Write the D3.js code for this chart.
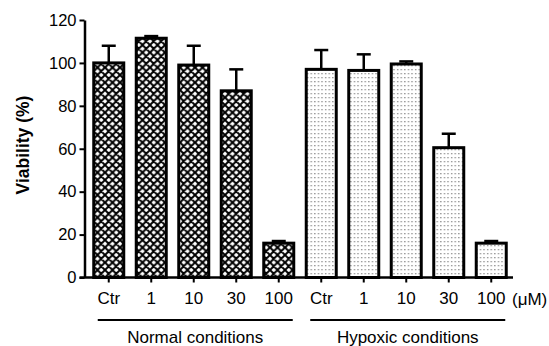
<!DOCTYPE html>
<html>
<head>
<meta charset="utf-8">
<script src="https://cdn.jsdelivr.net/npm/d3@7"></script>
<style>
  html, body { margin: 0; padding: 0; background: #fff; }
  svg { display: block; }
  text { font-family: "Liberation Sans", Arial, sans-serif; fill: #000; }
</style>
</head>
<body>
<svg id="chart" width="549" height="346"></svg>
<script>
const categories = ["Ctr", "1", "10", "30", "100"];
const groups = ["Normal conditions", "Hypoxic conditions"];
const normalMeans = [100, 111.5, 99, 87, 16];
const normalErr = [8, 1, 9, 10, 1];
const hypoxicMeans = [97, 96.5, 99.5, 60.5, 16];
const hypoxicErr = [9, 7.5, 1.2, 6.5, 1];
const yTicks = [0, 20, 40, 60, 80, 100, 120];
const unitLabel = "(\u03bcM)";
const yTitle = "Viability (%)";

const rows = [];
groups.forEach((g, gi) => {
  const means = gi === 0 ? normalMeans : hypoxicMeans;
  const errs = gi === 0 ? normalErr : hypoxicErr;
  categories.forEach((c, ci) => {
    rows.push({ key: gi + "-" + ci, group: gi, cat: c, mean: means[ci], err: errs[ci] });
  });
});

const svg = d3.select("#chart");
const defs = svg.append("defs");

// cross-hatch pattern
const ch = defs.append("pattern").attr("id", "cross").attr("patternUnits", "userSpaceOnUse")
  .attr("width", 7.5).attr("height", 7.5);
ch.append("rect").attr("width", 7.5).attr("height", 7.5).attr("fill", "#fff");
ch.append("path").attr("d", "M0,0 L7.5,7.5 M7.5,0 L0,7.5 M-1,6.5 L1,8.5 M6.5,-1 L8.5,1 M-1,1 L1,-1 M6.5,8.5 L8.5,6.5")
  .attr("stroke", "#000").attr("stroke-width", 2);

// dotted pattern
const dp = defs.append("pattern").attr("id", "dots").attr("patternUnits", "userSpaceOnUse")
  .attr("width", 3.6).attr("height", 4);
dp.append("rect").attr("width", 3.6).attr("height", 4).attr("fill", "#fff");
dp.append("rect").attr("x", 1).attr("y", 1).attr("width", 1.3).attr("height", 1.3).attr("fill", "#8a8a8a");

const yAxisX = 84.5;
const y = d3.scaleLinear().domain([0, 120]).range([277.5, 20]);
const x = d3.scaleBand().domain(rows.map(d => d.key)).range([87.5, 512.5])
  .paddingInner(0.294).paddingOuter(0.147);

// bars
svg.append("g").selectAll("rect").data(rows).join("rect")
  .attr("x", d => x(d.key))
  .attr("y", d => y(d.mean))
  .attr("width", x.bandwidth())
  .attr("height", d => y(0) - y(d.mean))
  .attr("fill", d => d.group === 0 ? "url(#cross)" : "url(#dots)")
  .attr("stroke", "#000").attr("stroke-width", 3);

// error bars
const eb = svg.append("g").attr("stroke", "#000").attr("stroke-width", 2.5);
eb.selectAll("line.v").data(rows).join("line").attr("class", "v")
  .attr("x1", d => x(d.key) + x.bandwidth() / 2)
  .attr("x2", d => x(d.key) + x.bandwidth() / 2)
  .attr("y1", d => y(d.mean))
  .attr("y2", d => y(d.mean + d.err));
eb.selectAll("line.c").data(rows).join("line").attr("class", "c")
  .attr("x1", d => x(d.key) + x.bandwidth() / 2 - 7)
  .attr("x2", d => x(d.key) + x.bandwidth() / 2 + 7)
  .attr("y1", d => y(d.mean + d.err))
  .attr("y2", d => y(d.mean + d.err));

// y axis
const yAxis = svg.append("g").attr("transform", `translate(${yAxisX},0)`)
  .call(d3.axisLeft(y).tickValues(yTicks).tickSize(5).tickPadding(3).tickSizeOuter(0));
yAxis.select(".domain").attr("stroke-width", 2.5);
yAxis.selectAll(".tick line").attr("stroke-width", 2);
yAxis.selectAll(".tick text").attr("font-size", 16.5).attr("font-family", "Liberation Sans, Arial, sans-serif");

// x axis
const xAxis = svg.append("g").attr("transform", `translate(0,${y(0)})`)
  .call(d3.axisBottom(x).tickSize(5).tickPadding(9).tickSizeOuter(0)
    .tickFormat(k => rows.find(r => r.key === k).cat));
xAxis.select(".domain").attr("d", `M${yAxisX - 5},0H513`).attr("stroke-width", 2.5);
xAxis.selectAll(".tick line").attr("stroke-width", 2);
xAxis.selectAll(".tick text").attr("font-size", 17).attr("font-family", "Liberation Sans, Arial, sans-serif");

svg.append("text").attr("x", 512).attr("y", y(0) + 27).attr("font-size", 17).text(unitLabel);

// group lines & labels
groups.forEach((g, gi) => {
  const keys = rows.filter(r => r.group === gi).map(r => r.key);
  const x0 = x(keys[0]) + 4;
  const x1 = x(keys[keys.length - 1]) + x.bandwidth() - 1;
  svg.append("line").attr("x1", x0).attr("x2", x1).attr("y1", 320).attr("y2", 320)
    .attr("stroke", "#000").attr("stroke-width", 2);
  svg.append("text").attr("x", (x0 + x1) / 2).attr("y", 342.5).attr("text-anchor", "middle")
    .attr("font-size", 17).text(g);
});

// y title
svg.append("text").attr("transform", "translate(29,145) rotate(-90)")
  .attr("text-anchor", "middle").attr("font-size", 17.5).attr("font-weight", "bold").text(yTitle);
</script>
</body>
</html>
